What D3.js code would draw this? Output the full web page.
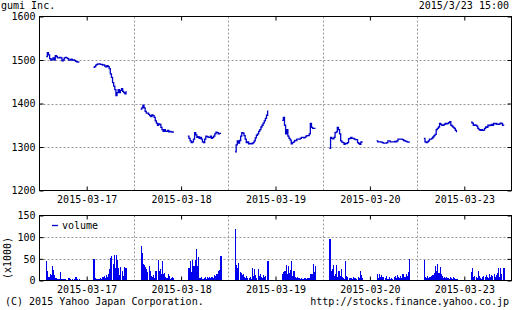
<!DOCTYPE html>
<html><head><meta charset="utf-8">
<script src="https://cdn.jsdelivr.net/npm/d3@7"></script>
<style>
html,body{margin:0;padding:0;background:#fff;}
text{font-family:"DejaVu Sans Mono",monospace;font-size:10px;fill:#000;}
</style></head>
<body><svg id="c" width="523" height="310"></svg>
<script>
// ---- data ----
const title = "gumi Inc.";
const stamp = "2015/3/23 15:00";
const copyright = "(C) 2015 Yahoo Japan Corporation.";
const source = "http://stocks.finance.yahoo.co.jp";
const days = ["2015-03-17","2015-03-18","2015-03-19","2015-03-20","2015-03-23"];
const axisOpen = "08:30", axisClose = "15:30";
const sessionStarts = ["09:00","12:30"];
const intervalMin = 5;
const priceTicks = [1200,1300,1400,1500,1600];
const volTicks = [0,50,100,150];
const volLabel = "(x1000)";
const legendLabel = "volume";

// 5-minute closes: 30 morning values then 30 afternoon values per day
const price0317 = [1508,1517,1512,1503,1500,1502,1505,1500,1510,1508,1505,1505,1506,1505,1498,1500,1505,1506,1505,1503,1500,1500,1502,1500,1500,1499,1497,1496,1495,1494,
  1483,1485,1488,1490,1491,1491,1490,1490,1488,1489,1486,1484,1487,1485,1480,1468,1460,1448,1440,1432,1418,1425,1432,1425,1430,1434,1428,1425,1422,1428];
const price0318 = [1387,1390,1396,1390,1382,1378,1378,1375,1372,1370,1374,1372,1368,1360,1355,1350,1353,1352,1345,1340,1336,1340,1336,1336,1338,1335,1336,1335,1334,1336,
  1325,1320,1314,1310,1312,1318,1333,1328,1322,1324,1320,1322,1318,1312,1310,1318,1325,1324,1322,1322,1325,1320,1322,1325,1330,1334,1333,1330,1331,1330];
const price0319 = [1289,1305,1314,1309,1315,1325,1333,1332,1326,1318,1310,1312,1307,1308,1307,1308,1310,1314,1321,1327,1330,1336,1340,1346,1350,1355,1360,1366,1373,1384,
  1361,1368,1350,1330,1340,1325,1320,1316,1307,1310,1312,1315,1315,1318,1318,1318,1320,1322,1322,1321,1322,1325,1326,1326,1330,1354,1345,1343,1343,1344];
const price0320 = [1297,1322,1320,1319,1322,1333,1335,1345,1340,1330,1314,1311,1310,1306,1308,1308,1310,1319,1320,1322,1320,1320,1318,1317,1317,1310,1308,1306,1312,1310,
  1314,1312,1312,1312,1311,1310,1309,1309,1309,1310,1314,1314,1312,1312,1312,1312,1313,1312,1314,1318,1318,1318,1318,1317,1315,1314,1313,1312,1311,1310];
const price0323 = [1320,1312,1310,1312,1314,1318,1318,1320,1323,1326,1329,1340,1343,1346,1354,1352,1350,1350,1352,1354,1353,1354,1356,1358,1350,1348,1345,1343,1338,1334,
  1357,1355,1350,1351,1350,1348,1343,1340,1338,1340,1338,1339,1343,1346,1345,1350,1349,1350,1352,1350,1354,1353,1354,1352,1352,1353,1355,1354,1350,1349];

// volume (x1000) per 5-minute bar
const vol0317 = [46,21,9,14,12,33,25,12,6,5,4,4,19,3,4,3,4,3,2,5,6,3,2,3,2,4,9,3,2,4,
  50,5,4,3,4,3,5,4,8,10,6,12,8,15,27,52,57,39,60,30,60,47,29,12,31,22,10,31,29,28];
const vol0318 = [79,63,37,35,31,27,19,33,22,10,8,12,6,21,23,48,23,27,14,46,14,17,9,5,15,10,4,6,7,5,
  30,28,46,20,48,33,47,72,33,54,6,5,8,4,6,9,4,7,5,9,6,8,5,12,10,15,14,22,24,56];
const vol0319 = [118,36,29,40,20,18,12,14,8,6,10,5,6,8,4,30,10,27,12,6,27,10,15,8,6,12,8,10,44,44,
  14,19,23,35,15,33,18,25,44,10,22,8,6,7,5,6,4,5,4,5,6,4,5,6,5,14,15,39,20,33];
const vol0320 = [95,22,27,36,10,14,35,8,23,10,27,8,6,4,45,10,7,6,5,6,4,7,5,6,4,8,5,21,12,5,
  14,6,15,8,12,7,8,6,10,4,3,8,4,5,4,8,10,6,12,8,5,10,6,14,8,7,15,10,19,50];
const vol0323 = [47,8,6,10,5,8,10,12,13,18,33,22,38,18,31,14,10,6,8,5,7,6,4,8,6,4,7,5,4,3,
  19,28,8,10,7,5,21,10,5,4,7,10,8,12,8,6,15,8,12,10,15,8,12,18,30,8,28,15,30,30];

const priceByDay = [price0317,price0318,price0319,price0320,price0323];
const volByDay = [vol0317,vol0318,vol0319,vol0320,vol0323];

// ---- layout ----
const L = 39.5, R = 511.5;
const pTop = 16.5, pBot = 190.5, vTop = 215.5, vBot = 280.5;
const lineColor = "#0000cc", barColor = "#0000ee", gridColor = "#999";

const toMin = t => { const [h,m] = t.split(":").map(Number); return h*60+m; };
const dayLen = toMin(axisClose) - toMin(axisOpen);
const perSession = 30;

const svg = d3.select("#c");
svg.append("rect").attr("width",523).attr("height",310).attr("fill","#fff");

const x = d3.scaleLinear().domain([0, days.length*dayLen]).range([L, R]);
const yP = d3.scaleLinear().domain([1200,1600]).range([pBot, pTop]);
const yV = d3.scaleLinear().domain([0,150]).range([vBot, vTop]);

const tOf = (d, s, i) => d*dayLen + (toMin(sessionStarts[s]) - toMin(axisOpen)) + i*intervalMin;

const boundaries = d3.range(1, days.length).map(d => d*dayLen);
const mids = days.map((_, d) => d*dayLen + dayLen/2);

function panel(y, top, bot, ticks, gridVals, labelBaseline) {
  const g = svg.append("g");
  g.selectAll(".hg").data(gridVals).join("line")
    .attr("x1", L).attr("x2", R).attr("y1", d => Math.round(y(d))+0.5).attr("y2", d => Math.round(y(d))+0.5)
    .attr("stroke", gridColor).attr("stroke-dasharray","2,2");
  g.selectAll(".vg").data(boundaries).join("line")
    .attr("x1", d => Math.round(x(d))+0.5).attr("x2", d => Math.round(x(d))+0.5).attr("y1", top).attr("y2", bot)
    .attr("stroke", gridColor).attr("stroke-dasharray","2,2");
  const la = g.append("g").attr("transform",`translate(${L},0)`)
    .call(d3.axisLeft(y).tickValues(ticks).tickSizeInner(-4).tickSizeOuter(0).tickPadding(4).tickFormat(d3.format("d")));
  const ra = g.append("g").attr("transform",`translate(${R},0)`)
    .call(d3.axisRight(y).tickValues(ticks).tickSizeInner(-4).tickSizeOuter(0).tickFormat(""));
  const ta = g.append("g").attr("transform",`translate(0,${top})`)
    .call(d3.axisTop(x).tickValues(mids).tickSizeInner(-4).tickSizeOuter(0).tickFormat(""));
  const ba = g.append("g").attr("transform",`translate(0,${bot})`)
    .call(d3.axisBottom(x).tickValues(mids).tickSizeInner(-4).tickSizeOuter(0).tickPadding(labelBaseline - bot - 7.1)
      .tickFormat((d,i) => days[i]));
  [la,ra,ta,ba].forEach(a => { a.select(".domain").remove(); a.selectAll("line").attr("stroke","#000");
    a.selectAll("text").attr("fill","#000"); a.attr("font-family",null).attr("font-size",null); });
  return g;
}

panel(yP, pTop, pBot, priceTicks, [1300,1400,1500], 203);
panel(yV, vTop, vBot, volTicks, [50,100], 293);

// price lines
const line = d3.line().x(d => x(d.t)).y(d => yP(d.v)).curve(d3.curveStepAfter);
priceByDay.forEach((arr, d) => {
  [0,1].forEach(s => {
    const pts = arr.slice(s*perSession, (s+1)*perSession).map((v,i) => ({t: tOf(d,s,i), v}));
    svg.append("path").datum(pts).attr("d", line).attr("fill","none")
      .attr("stroke", lineColor).attr("stroke-width", 1.3);
  });
});

// volume bars
const bw = x(intervalMin) - x(0);
volByDay.forEach((arr, d) => {
  const bars = arr.map((v, k) => ({t: tOf(d, Math.floor(k/perSession), k%perSession), v}));
  svg.append("g").selectAll("rect").data(bars).join("rect")
    .attr("x", b => x(b.t)).attr("width", bw*0.95)
    .attr("y", b => yV(b.v)).attr("height", b => yV(0) - yV(b.v))
    .attr("fill", barColor).attr("shape-rendering","crispEdges");
});

// frames
[[pTop,pBot],[vTop,vBot]].forEach(([t,b]) => {
  svg.append("rect").attr("x",L).attr("y",t).attr("width",R-L).attr("height",b-t)
    .attr("fill","none").attr("stroke","#000");
});

// legend
svg.append("line").attr("x1",52).attr("x2",58).attr("y1",225.5).attr("y2",225.5).attr("stroke",lineColor).attr("stroke-width",1.3);
svg.append("text").attr("x",62).attr("y",229).text(legendLabel);

// texts
svg.append("text").attr("x",1).attr("y",9).text(title);
svg.append("text").attr("x",509).attr("y",9).attr("text-anchor","end").text(stamp);
svg.append("text").attr("transform","translate(11,258) rotate(-90)").attr("text-anchor","middle").text(volLabel);
svg.append("text").attr("x",5).attr("y",305).text(copyright);
svg.append("text").attr("x",509).attr("y",305).attr("text-anchor","end").text(source);
</script></body></html>
